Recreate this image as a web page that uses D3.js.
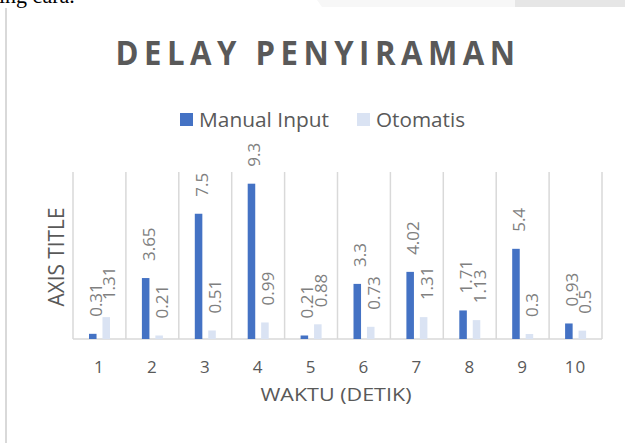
<!DOCTYPE html>
<html>
<head>
<meta charset="utf-8">
<script src="https://cdn.jsdelivr.net/npm/d3@7"></script>
<style>
  body { margin: 0; background: #fff; }
  svg { display: block; font-family: "Open Sans", sans-serif; }
</style>
</head>
<body>
<script>
// data
var categories = ["1", "2", "3", "4", "5", "6", "7", "8", "9", "10"];
var manualInput = [0.31, 3.65, 7.5, 9.3, 0.21, 3.3, 4.02, 1.71, 5.4, 0.93];
var otomatis = [1.31, 0.21, 0.51, 0.99, 0.88, 0.73, 1.31, 1.13, 0.3, 0.5];
var seriesNames = ["Manual Input", "Otomatis"];
var seriesColors = ["#4472c4", "#dae3f3"];

var width = 625, height = 443;

var svg = d3.select("body").append("svg")
    .attr("width", width)
    .attr("height", height);

// bits of the page around the chart
svg.append("text")
    .attr("x", -1).attr("y", 3)
    .style("font-family", "'Liberation Serif', serif")
    .style("font-size", "22px")
    .style("fill", "#000")
    .text("ing cara.");
svg.append("path")
    .attr("d", "M317,0 L625,0 L625,7 L322,7 Z")
    .style("fill", "#f7f7f7");
svg.append("rect")
    .attr("x", 515).attr("y", 0).attr("width", 110).attr("height", 7)
    .style("fill", "#e6e6e6");
svg.append("rect")
    .attr("x", 5).attr("y", 8).attr("width", 2).attr("height", height - 8)
    .style("fill", "#d9d9d9");

// plot area
var x = d3.scaleBand()
    .domain(categories)
    .range([73, 602])
    .padding(0);

var x1 = d3.scaleBand()
    .domain(seriesNames)
    .range([16, 37])
    .paddingInner(0.44);

var y = d3.scaleLinear()
    .domain([0, 10])
    .range([339, 172]);

// vertical gridlines at category boundaries
var bounds = categories.map(function(c) { return x(c); }).concat([x.range()[1]]);
svg.selectAll("line.grid")
    .data(bounds)
    .enter().append("line")
    .attr("class", "grid")
    .attr("x1", function(d) { return d; })
    .attr("x2", function(d) { return d; })
    .attr("y1", y(10))
    .attr("y2", y(0))
    .style("stroke", "#d9d9d9")
    .style("stroke-width", 1.5);

svg.append("line")
    .attr("x1", x.range()[0]).attr("x2", x.range()[1])
    .attr("y1", y(0)).attr("y2", y(0))
    .style("stroke", "#d9d9d9")
    .style("stroke-width", 1.5);

var rows = categories.map(function(c, i) {
  return { cat: c, values: [manualInput[i], otomatis[i]] };
});

var groups = svg.selectAll("g.cat")
    .data(rows)
    .enter().append("g")
    .attr("class", "cat")
    .attr("transform", function(d) { return "translate(" + x(d.cat) + ",0)"; });

groups.selectAll("rect")
    .data(function(d) { return d.values.map(function(v, j) { return { name: seriesNames[j], v: v, j: j }; }); })
    .enter().append("rect")
    .attr("x", function(d) { return x1(d.name); })
    .attr("y", function(d) { return y(d.v); })
    .attr("width", x1.bandwidth())
    .attr("height", function(d) { return y(0) - y(d.v); })
    .style("fill", function(d) { return seriesColors[d.j]; });

// rotated data labels
groups.selectAll("text.lbl")
    .data(function(d) { return d.values.map(function(v, j) { return { name: seriesNames[j], v: v }; }); })
    .enter().append("text")
    .attr("class", "lbl")
    .attr("transform", function(d) {
      var cx = x1(d.name) + x1.bandwidth() / 2 + 9;
      var cy = y(d.v) - 17;
      return "translate(" + cx + "," + cy + ") rotate(-90)";
    })
    .style("font-size", "17px")
    .style("fill", "#7f7f7f")
    .text(function(d) { return d.v; });

// x tick labels
svg.selectAll("text.tick")
    .data(categories)
    .enter().append("text")
    .attr("class", "tick")
    .attr("x", function(d) { return x(d) + x.bandwidth() / 2; })
    .attr("y", 373)
    .attr("text-anchor", "middle")
    .style("font-size", "17px")
    .style("letter-spacing", "1px")
    .style("fill", "#595959")
    .text(function(d) { return d; });

// axis titles
svg.append("text")
    .attr("x", 336).attr("y", 401)
    .attr("text-anchor", "middle")
    .attr("textLength", 151)
    .attr("lengthAdjust", "spacingAndGlyphs")
    .style("font-size", "18px")
    .style("fill", "#595959")
    .text("WAKTU (DETIK)");

svg.append("text")
    .attr("transform", "translate(64,257) rotate(-90)")
    .attr("text-anchor", "middle")
    .attr("textLength", 99)
    .attr("lengthAdjust", "spacingAndGlyphs")
    .style("font-size", "21px")
    .style("fill", "#595959")
    .text("AXIS TITLE");

// chart title
svg.append("text")
    .attr("x", 318).attr("y", 65)
    .attr("text-anchor", "middle")
    .attr("textLength", 405)
    .attr("lengthAdjust", "spacingAndGlyphs")
    .style("font-size", "34px")
    .style("font-weight", "bold")
    .style("letter-spacing", "6px")
    .style("fill", "#595959")
    .text("DELAY PENYIRAMAN");

// legend
var legendX = [180, 357], legendW = [130, 89];
var legend = svg.selectAll("g.legend")
    .data(seriesNames)
    .enter().append("g")
    .attr("class", "legend");

legend.append("rect")
    .attr("x", function(d, i) { return legendX[i]; })
    .attr("y", 113)
    .attr("width", 13)
    .attr("height", 13)
    .style("fill", function(d, i) { return seriesColors[i]; });

legend.append("text")
    .attr("x", function(d, i) { return legendX[i] + 19; })
    .attr("y", 127)
    .attr("textLength", function(d, i) { return legendW[i]; })
    .attr("lengthAdjust", "spacingAndGlyphs")
    .style("font-size", "20px")
    .style("fill", "#595959")
    .text(function(d) { return d; });
</script>
</body>
</html>
